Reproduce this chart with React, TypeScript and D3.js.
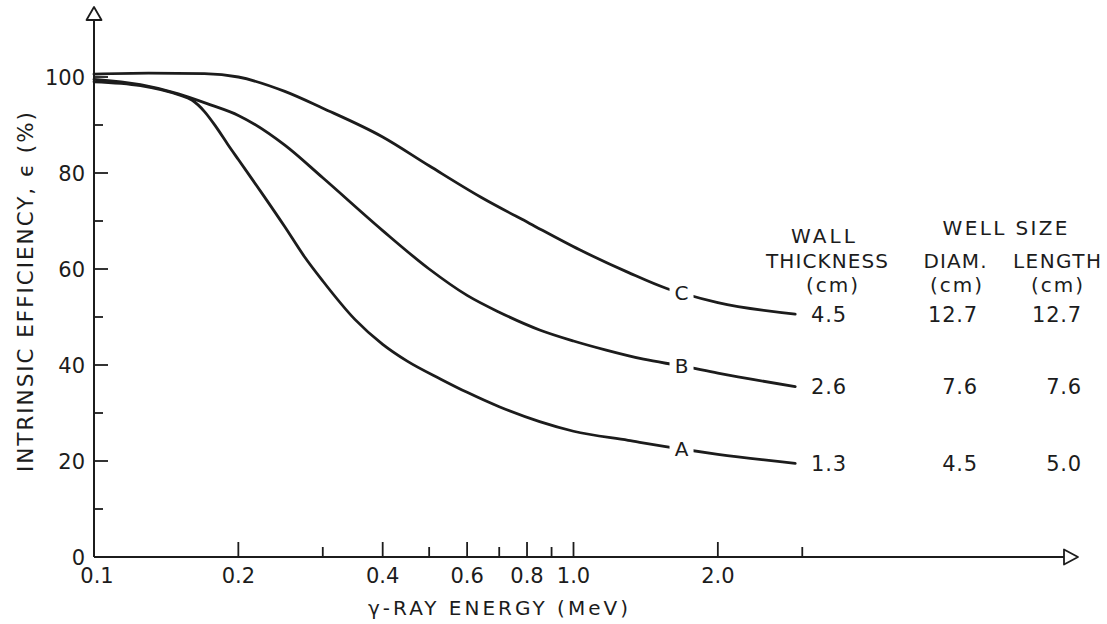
import React from "react";
import * as d3 from "d3";

const W = 1107;
const H = 624;

// Efficiency curves: gamma-ray energy (MeV) against intrinsic efficiency (%)
const energyC = [0.1, 0.13, 0.17, 0.2, 0.25, 0.3, 0.4, 0.5, 0.64, 0.81, 1.03, 1.3, 1.56, 1.68, 2.0, 2.9];
const effC = [100.6, 100.8, 100.7, 100.0, 97.0, 93.5, 87.5, 81.5, 75.0, 69.5, 64.0, 59.3, 56.0, 55.0, 53.0, 50.6];

const energyB = [0.1, 0.125, 0.15, 0.175, 0.2, 0.25, 0.3, 0.4, 0.5, 0.6, 0.7, 0.85, 1.0, 1.17, 1.4, 1.68, 2.0, 2.9];
const effB = [99.5, 98.4, 96.5, 94.2, 92.0, 85.8, 79.0, 68.0, 60.0, 54.5, 51.0, 47.3, 45.0, 43.1, 41.2, 39.8, 38.3, 35.5];

const energyA = [0.1, 0.125, 0.15, 0.16, 0.17, 0.18, 0.19, 0.2, 0.225, 0.25, 0.275, 0.3, 0.35, 0.4, 0.45, 0.53, 0.6, 0.7, 0.85, 1.0, 1.3, 1.68, 2.0, 2.9];
const effA = [99.0, 98.2, 96.3, 95.2, 92.8, 89.5, 86.0, 82.8, 75.5, 68.8, 62.5, 57.5, 49.5, 44.3, 40.8, 37.0, 34.3, 31.3, 28.2, 26.2, 24.3, 22.5, 21.4, 19.5];

const curveNames = ["C", "B", "A"];
const labelEnergy = 1.68;

// Well-detector table
const wallThickness = ["4.5", "2.6", "1.3"];
const wellDiam = ["12.7", "7.6", "4.5"];
const wellLength = ["12.7", "7.6", "5.0"];

// Axis ticks
const xMajor = [0.2, 0.4, 0.6, 0.8, 1.0, 2.0];
const xMinor = [0.3, 0.5, 0.7, 0.9, 3.0];
const xLabelValues = [0.1, 0.2, 0.4, 0.6, 0.8, 1.0, 2.0];
const xLabels = ["0.1", "0.2", "0.4", "0.6", "0.8", "1.0", "2.0"];
const yMajor = [20, 40, 60, 80, 100];
const yMinor = [10, 30, 50, 70, 90];
const yLabels = [0, 20, 40, 60, 80, 100];

const INK = "#1c1c1c";
const FONT = "'DejaVu Sans', Verdana, sans-serif";

export default function App() {
  const x = d3.scaleLog().domain([0.1, 1]).range([94, 573.5]);
  const y = d3.scaleLinear().domain([0, 100]).range([557, 77]);

  const line = d3
    .line<[number, number]>()
    .x((d) => x(d[0]))
    .y((d) => y(d[1]))
    .curve(d3.curveMonotoneX);

  const curves = [
    { e: energyC, v: effC },
    { e: energyB, v: effB },
    { e: energyA, v: effA },
  ];

  const x0 = x(0.1);
  const y0 = y(0);
  const xEnd = 1064;
  const yTop = 20;

  const colThick = 829;
  const colDiam = 978;
  const colLength = 1082;

  return (
    <svg
      width={W}
      height={H}
      viewBox={`0 0 ${W} ${H}`}
      style={{ position: "absolute", left: 0, top: 0, background: "#fff" }}
      fontFamily={FONT}
      fill={INK}
    >
      <rect width={W} height={H} fill="#fff" />

      {/* axes */}
      <line x1={x0} y1={yTop} x2={x0} y2={y0} stroke={INK} strokeWidth={2} />
      <line x1={x0} y1={y0} x2={xEnd} y2={y0} stroke={INK} strokeWidth={2} />
      <polygon
        points={`${x0 - 7.5},${yTop} ${x0 + 7.5},${yTop} ${x0},${yTop - 13}`}
        fill="#fff"
        stroke={INK}
        strokeWidth={1.8}
        strokeLinejoin="round"
      />
      <polygon
        points={`${xEnd},${y0 - 7.5} ${xEnd},${y0 + 7.5} ${xEnd + 14},${y0}`}
        fill="#fff"
        stroke={INK}
        strokeWidth={1.8}
        strokeLinejoin="round"
      />

      {/* x ticks */}
      {xMajor.map((v) => (
        <line key={`xM${v}`} x1={x(v)} x2={x(v)} y1={y0} y2={y0 - 15} stroke={INK} strokeWidth={1.8} />
      ))}
      {xMinor.map((v) => (
        <line key={`xm${v}`} x1={x(v)} x2={x(v)} y1={y0} y2={y0 - 10} stroke={INK} strokeWidth={1.8} />
      ))}
      {xLabelValues.map((v, i) => (
        <text key={`xl${v}`} x={x(v) + (i === 0 ? 3 : 0)} y={583} fontSize={21} textAnchor="middle">
          {xLabels[i]}
        </text>
      ))}

      {/* y ticks */}
      {yMajor.map((v) => (
        <line key={`yM${v}`} x1={x0} x2={x0 + 14} y1={y(v)} y2={y(v)} stroke={INK} strokeWidth={1.8} />
      ))}
      {yMinor.map((v) => (
        <line key={`ym${v}`} x1={x0} x2={x0 + 9} y1={y(v)} y2={y(v)} stroke={INK} strokeWidth={1.8} />
      ))}
      {yLabels.map((v) => (
        <text key={`yl${v}`} x={85} y={y(v)} dy="0.36em" fontSize={21} textAnchor="end">
          {v}
        </text>
      ))}

      {/* axis titles */}
      <text x={498} y={615} fontSize={20} textAnchor="middle" textLength={260} lengthAdjust="spacing">
        γ-RAY ENERGY (MeV)
      </text>
      <text
        transform="translate(33,292) rotate(-90)"
        fontSize={21.5}
        textAnchor="middle"
        textLength={360}
        lengthAdjust="spacing"
      >
        INTRINSIC EFFICIENCY, ϵ (%)
      </text>

      {/* curves with their letter labels */}
      {curves.map((c, i) => {
        const pts = c.e.map((e, k) => [e, c.v[k]] as [number, number]);
        const k = c.e.indexOf(labelEnergy);
        const lx = x(labelEnergy);
        const ly = y(c.v[k]);
        return (
          <g key={curveNames[i]}>
            <path d={line(pts) || ""} fill="none" stroke={INK} strokeWidth={2.8} strokeLinecap="round" />
            <rect x={lx - 12} y={ly - 9} width={24} height={18} fill="#fff" />
            <text x={lx} y={ly} dy="0.36em" fontSize={20} textAnchor="middle">
              {curveNames[i]}
            </text>
          </g>
        );
      })}

      {/* table headers */}
      <text x={1005} y={235} fontSize={20} textAnchor="middle" textLength={125} lengthAdjust="spacing">
        WELL SIZE
      </text>
      <text x={823} y={243} fontSize={20} textAnchor="middle" textLength={64} lengthAdjust="spacing">
        WALL
      </text>
      <text x={827} y={268} fontSize={20} textAnchor="middle" textLength={122} lengthAdjust="spacing">
        THICKNESS
      </text>
      <text x={955} y={268} fontSize={20} textAnchor="middle" textLength={63} lengthAdjust="spacing">
        DIAM.
      </text>
      <text x={1057} y={268} fontSize={20} textAnchor="middle" textLength={88} lengthAdjust="spacing">
        LENGTH
      </text>
      {[832, 956, 1057].map((cx) => (
        <text key={`cm${cx}`} x={cx} y={292} fontSize={20} textAnchor="middle" textLength={52} lengthAdjust="spacing">
          (cm)
        </text>
      ))}

      {/* table rows aligned with curve ends */}
      {curves.map((c, i) => {
        const ry = y(c.v[c.v.length - 1]);
        return (
          <g key={`row${i}`} fontSize={21} letterSpacing={0.8}>
            <text x={colThick} y={ry} dy="0.36em" textAnchor="middle">
              {wallThickness[i]}
            </text>
            <text x={colDiam} y={ry} dy="0.36em" textAnchor="end">
              {wellDiam[i]}
            </text>
            <text x={colLength} y={ry} dy="0.36em" textAnchor="end">
              {wellLength[i]}
            </text>
          </g>
        );
      })}
    </svg>
  );
}
